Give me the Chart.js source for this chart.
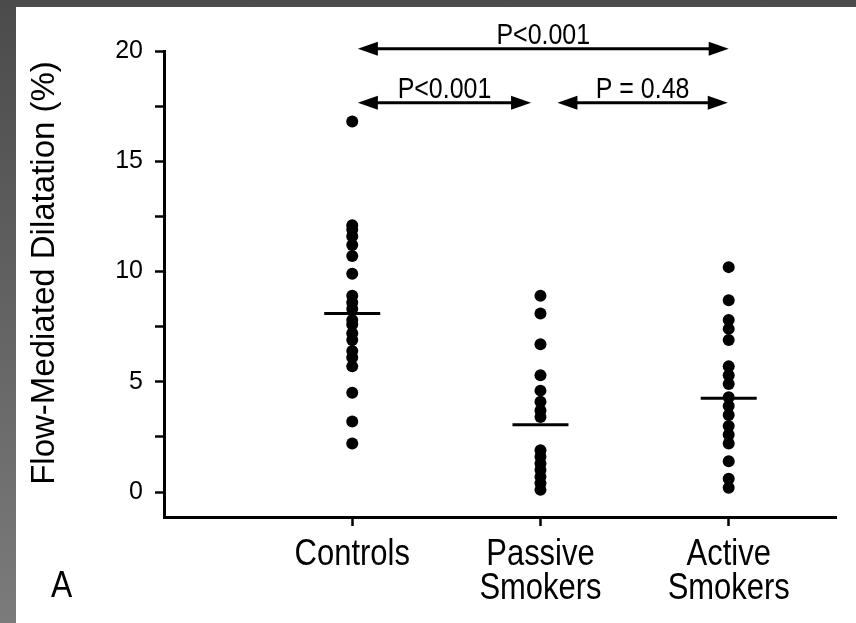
<!DOCTYPE html>
<html>
<head>
<meta charset="utf-8">
<script src="https://cdn.jsdelivr.net/npm/chart.js@4"></script>
<style>
  html, body { margin: 0; padding: 0; }
  #frame {
    position: relative; width: 856px; height: 623px; overflow: hidden;
    background: linear-gradient(to bottom, #4b4b4b, #7b7b7b);
  }
  #panel { position: absolute; left: 16px; top: 7px; right: 0; bottom: 0; background: #fff; }
  #chart { position: absolute; left: 0; top: 0; }
</style>
</head>
<body>
<div id="frame">
  <div id="panel"></div>
  <canvas id="chart" width="856" height="623"></canvas>
</div>
<script>
// Flow-mediated dilatation per group (%)
const groups = [['Controls'], ['Passive', 'Smokers'], ['Active', 'Smokers']];
const controls = [16.8, 12.1, 11.9, 11.6, 11.2, 10.7, 9.9, 8.9, 8.6, 8.3, 7.8, 7.6, 7.2, 6.9, 6.4, 6.1, 5.7, 4.5, 3.2, 2.2];
const passive = [8.9, 8.1, 6.7, 5.3, 4.6, 4.1, 3.7, 3.4, 1.9, 1.6, 1.3, 1.0, 0.7, 0.4, 0.1];
const active = [10.2, 8.7, 7.8, 7.4, 6.9, 5.7, 5.3, 4.9, 4.3, 3.9, 3.5, 3.0, 2.6, 2.2, 1.4, 0.6, 0.2];
const means = [8.1, 3.05, 4.25];
const yTicks = [0, 2.5, 5, 7.5, 10, 12.5, 15, 17.5, 20];
const yTitle = 'Flow-Mediated Dilatation (%)';

// pairwise comparisons (x in group units, y in %)
const comparisons = [
  { from: 1.03, to: 3.0, y: 20.1, label: 'P<0.001' },
  { from: 1.03, to: 1.95, y: 17.65, label: 'P<0.001' },
  { from: 2.09, to: 2.995, y: 17.65, label: 'P = 0.48' }
];

const FONT = '"Liberation Sans", Arial, sans-serif';
const SQUEEZE = 0.86; // condensed lettering for labels

const pts = (vals, g) => vals.map(v => ({ x: g, y: v }));

// text squeezed horizontally around its anchor
function narrowText(ctx, text, x, y, size, align) {
  ctx.save();
  ctx.translate(x, y);
  ctx.scale(SQUEEZE, 1);
  ctx.font = size + 'px ' + FONT;
  ctx.textAlign = align;
  ctx.textBaseline = 'alphabetic';
  ctx.fillText(text, 0, 0);
  ctx.restore();
}

// arrows with p-values, category labels, axis title and the panel letter
const annotate = {
  id: 'annotate',
  afterDatasetsDraw(chart) {
    const { ctx, scales: { x, y } } = chart;
    ctx.save();
    ctx.fillStyle = '#000';
    ctx.strokeStyle = '#000';
    ctx.lineWidth = 3;
    const head = 20, half = 7;
    comparisons.forEach(c => {
      const x1 = x.getPixelForValue(c.from);
      const x2 = x.getPixelForValue(c.to);
      const yy = y.getPixelForValue(c.y);
      ctx.beginPath();
      ctx.moveTo(x1 + head - 2, yy);
      ctx.lineTo(x2 - head + 2, yy);
      ctx.stroke();
      ctx.beginPath();
      ctx.moveTo(x1, yy);
      ctx.lineTo(x1 + head, yy - half);
      ctx.lineTo(x1 + head, yy + half);
      ctx.closePath();
      ctx.fill();
      ctx.beginPath();
      ctx.moveTo(x2, yy);
      ctx.lineTo(x2 - head, yy - half);
      ctx.lineTo(x2 - head, yy + half);
      ctx.closePath();
      ctx.fill();
      narrowText(ctx, c.label, (x1 + x2) / 2, yy - 5, 29, 'center');
    });

    // category names under the x axis
    const base = x.bottom - 58;
    groups.forEach((lines, i) => {
      const cx = x.getPixelForValue(i + 1);
      lines.forEach((t, j) => narrowText(ctx, t, cx, base + j * 34, 36, 'center'));
    });

    // y axis title
    ctx.save();
    ctx.translate(54, 273);
    ctx.rotate(-Math.PI / 2);
    ctx.font = '33px ' + FONT;
    ctx.textAlign = 'center';
    ctx.fillText(yTitle, 0, 0);
    ctx.restore();

    narrowText(ctx, 'A', 51, 597, 37, 'left');
    ctx.restore();
  }
};

new Chart(document.getElementById('chart'), {
  type: 'scatter',
  data: {
    datasets: [
      { data: pts(controls, 1) },
      { data: pts(passive, 2) },
      { data: pts(active, 3) },
      {
        data: means.map((m, i) => ({ x: i + 1, y: m })),
        pointStyle: 'line',
        pointRadius: 28,
        borderWidth: 3,
        borderColor: '#000'
      }
    ]
  },
  options: {
    responsive: false,
    animation: false,
    layout: { autoPadding: false, padding: { top: 51, right: 20, left: 0, bottom: 0 } },
    elements: {
      point: { radius: 6, backgroundColor: '#000', borderColor: '#000', borderWidth: 0 }
    },
    plugins: { legend: { display: false }, tooltip: { enabled: false } },
    scales: {
      x: {
        type: 'linear',
        min: 0,
        max: 3.57,
        afterFit(s) { s.height = 106; s.paddingLeft = 0; s.paddingRight = 0; },
        afterBuildTicks(s) { s.ticks = [1, 2, 3].map(v => ({ value: v })); },
        border: { color: '#000', width: 3 },
        grid: { drawOnChartArea: false, drawTicks: true, tickLength: 9, tickWidth: 2.5, tickColor: '#000' },
        ticks: { display: false }
      },
      y: {
        min: -1.13,
        max: 20,
        afterFit(s) { s.width = 164; },
        afterBuildTicks(s) { s.ticks = yTicks.map(v => ({ value: v })); },
        border: { color: '#000', width: 3 },
        grid: { drawOnChartArea: false, drawTicks: true, tickLength: 9, tickWidth: 2.5, tickColor: '#000' },
        ticks: {
          color: '#000',
          padding: 12,
          font: { family: FONT, size: 25 },
          callback: v => (v % 5 === 0 ? String(v) : '')
        }
      }
    }
  },
  plugins: [annotate]
});
</script>
</body>
</html>
